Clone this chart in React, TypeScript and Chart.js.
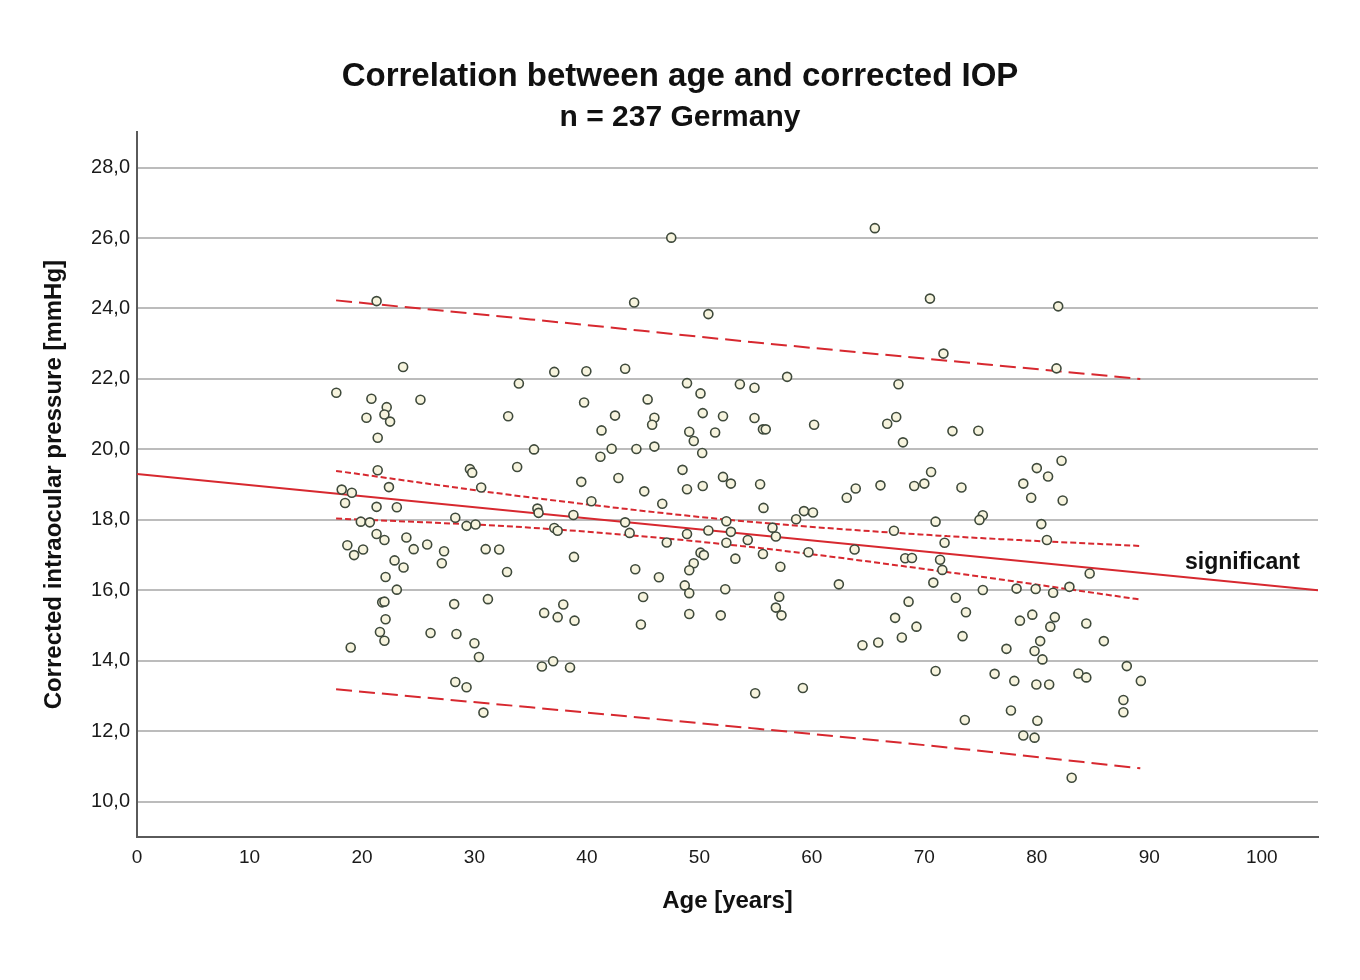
import { useEffect, useRef } from 'react';
import { Chart, registerables, type Plugin } from 'chart.js';

Chart.register(...registerables);

// age [years] / corrected IOP [mmHg], one entry per eye-subject
const ageYears = [
  21.3, 23.66, 17.72, 20.84, 25.2, 22.2, 22.0, 20.4, 22.5, 21.4,
  33.95, 33.0, 35.3, 21.4, 29.6, 29.8, 33.8, 18.2, 19.1, 22.4,
  30.6, 18.5, 21.3, 23.1, 35.6, 35.7, 28.3, 19.9, 20.7, 29.3,
  30.1, 21.3, 22.0, 23.95, 18.7, 20.1, 19.3, 24.6, 25.8, 27.3,
  27.1, 31.0, 32.2, 32.9, 22.9, 23.7, 22.1, 23.1, 21.8, 22.0,
  28.2, 31.2, 22.1, 21.6, 22.0, 19.0, 26.1, 28.4, 30.0, 30.4,
  28.3, 29.3, 30.8,
  47.5, 44.2, 50.8, 37.1, 39.95, 43.4, 48.9, 50.1, 53.6, 39.75,
  45.4, 42.5, 46.0, 45.8, 50.3, 52.1, 41.3, 49.1, 49.5, 51.4,
  42.2, 41.2, 44.4, 46.0, 50.25, 48.5, 39.5, 42.8, 45.1, 48.9,
  50.3, 52.1, 52.8, 40.4, 46.7, 38.8, 43.4, 43.8, 37.1, 37.4,
  47.1, 48.9, 50.8, 52.4, 52.8, 52.4, 54.3, 38.85, 50.1, 50.4,
  49.5, 49.1, 53.2, 44.3, 46.4, 48.7, 49.1, 52.3, 45.0, 37.9,
  36.2, 37.4, 38.9, 49.1, 51.9, 44.8, 36.0, 37.0, 38.5,
  65.6, 70.5, 71.7, 54.9, 57.8, 67.7, 54.9, 55.65, 55.9, 60.2,
  66.7, 67.5, 68.1, 72.5, 55.4, 63.1, 63.9, 66.1, 69.1, 70.0,
  70.6, 73.3, 55.7, 58.6, 59.3, 60.1, 56.5, 56.8, 55.65, 59.7,
  57.2, 63.8, 67.3, 68.3, 68.9, 71.0, 71.8, 71.4, 71.6, 70.8,
  62.4, 57.1, 56.8, 57.3, 72.8, 68.6, 67.4, 69.3, 68.0, 64.5,
  65.9, 71.0, 54.96, 59.2,
  81.9, 81.75, 74.8, 82.2, 80.0, 81.0, 78.8, 79.5, 82.3, 75.2,
  74.9, 80.4, 80.9, 84.7, 82.9, 75.2, 78.2, 79.9, 81.45, 73.7,
  78.5, 79.6, 81.6, 81.2, 84.4, 73.4, 77.3, 80.3, 79.8, 80.5,
  85.96, 76.25, 78.0, 79.96, 81.1, 83.7, 84.4, 88.0, 89.25, 87.7,
  87.7, 73.6, 77.7, 80.05, 78.8, 79.8, 83.1,
];
const iopMmHg = [
  24.21, 22.34, 21.61, 21.44, 21.41, 21.2, 20.99, 20.9, 20.79, 20.33,
  21.87, 20.94, 20.0, 19.41, 19.44, 19.34, 19.5, 18.86, 18.77, 18.93,
  18.92, 18.48, 18.37, 18.36, 18.32, 18.2, 18.06, 17.95, 17.93, 17.83,
  17.87, 17.6, 17.43, 17.5, 17.28, 17.16, 17.0, 17.17, 17.3, 17.11,
  16.77, 17.17, 17.16, 16.52, 16.85, 16.65, 16.38, 16.02, 15.66, 15.68,
  15.61, 15.75, 15.18, 14.82, 14.57, 14.38, 14.79, 14.76, 14.5, 14.11,
  13.4, 13.25, 12.53,
  26.01, 24.17, 23.84, 22.2, 22.22, 22.29, 21.88, 21.59, 21.85, 21.33,
  21.42, 20.96, 20.9, 20.7, 21.03, 20.94, 20.54, 20.5, 20.24, 20.48,
  20.02, 19.79, 20.01, 20.08, 19.9, 19.42, 19.08, 19.19, 18.81, 18.87,
  18.96, 19.22, 19.03, 18.53, 18.46, 18.14, 17.93, 17.63, 17.77, 17.69,
  17.36, 17.6, 17.7, 17.96, 17.66, 17.35, 17.43, 16.95, 17.07, 17.0,
  16.77, 16.57, 16.9, 16.6, 16.37, 16.14, 15.92, 16.03, 15.81, 15.6,
  15.36, 15.24, 15.14, 15.33, 15.29, 15.03, 13.84, 13.99, 13.81,
  26.28, 24.28, 22.72, 21.75, 22.06, 21.85, 20.89, 20.57, 20.57, 20.7,
  20.73, 20.92, 20.2, 20.52, 19.01, 18.63, 18.89, 18.98, 18.96, 19.03,
  19.36, 18.92, 18.34, 18.02, 18.25, 18.21, 17.78, 17.53, 17.03, 17.08,
  16.67, 17.16, 17.69, 16.91, 16.92, 17.95, 17.35, 16.87, 16.58, 16.22,
  16.17, 15.82, 15.51, 15.29, 15.79, 15.68, 15.22, 14.97, 14.66, 14.44,
  14.52, 13.71, 13.08, 13.23,
  24.06, 22.3, 20.53, 19.68, 19.47, 19.23, 19.03, 18.63, 18.55, 18.13,
  18.0, 17.88, 17.43, 16.48, 16.1, 16.01, 16.05, 16.04, 15.93, 15.38,
  15.14, 15.31, 15.24, 14.97, 15.06, 14.7, 14.34, 14.56, 14.28, 14.04,
  14.56, 13.63, 13.43, 13.33, 13.33, 13.64, 13.53, 13.85, 13.43, 12.89,
  12.54, 12.32, 12.59, 12.3, 11.88, 11.82, 10.68,
];

// fit line and its intervals, read at a few ages
const fitAge = [0, 105];
const fitIop = [19.3, 16.0];
const ciAge = [17.7, 35.9, 53.7, 72.0, 89.2];
const ciUpper = [19.39, 18.6, 17.97, 17.54, 17.26];
const ciLower = [18.04, 17.76, 17.26, 16.52, 15.74];
const piAge = [17.7, 35.0, 54.6, 73.3, 89.2];
const piUpper = [24.23, 23.69, 23.05, 22.48, 22.0];
const piLower = [13.19, 12.68, 12.09, 11.5, 10.95];

const xTicks = [0, 10, 20, 30, 40, 50, 60, 70, 80, 90, 100];
const yTicks = [10, 12, 14, 16, 18, 20, 22, 24, 26, 28];

const FONT = '"Liberation Sans", Arial, Helvetica, sans-serif';
const RED = '#d7282f';

const pts = (xs: number[], ys: number[]) => xs.map((x, i) => ({ x, y: ys[i] }));

const lineSet = (xs: number[], ys: number[], dash: number[], smooth = false) => ({
  type: 'line' as const,
  data: pts(xs, ys),
  borderColor: RED,
  borderWidth: 2,
  borderDash: dash,
  pointRadius: 0,
  showLine: true,
  fill: false,
  cubicInterpolationMode: smooth ? ('monotone' as const) : ('default' as const),
  order: 1,
});

const significantLabel: Plugin = {
  id: 'significantLabel',
  afterDatasetsDraw(chart) {
    const { ctx, scales } = chart;
    ctx.save();
    ctx.font = `bold 23px ${FONT}`;
    ctx.fillStyle = '#111';
    ctx.textAlign = 'right';
    ctx.textBaseline = 'middle';
    ctx.fillText('significant', scales.x.getPixelForValue(103.4), scales.y.getPixelForValue(16.8));
    ctx.restore();
  },
};

export default function App() {
  const canvasRef = useRef<HTMLCanvasElement>(null);
  const chartRef = useRef<Chart | null>(null);

  useEffect(() => {
    document.body.style.margin = '0';
    if (!canvasRef.current) return;
    chartRef.current?.destroy();
    chartRef.current = new Chart(canvasRef.current, {
      type: 'scatter',
      data: {
        datasets: [
          {
            data: pts(ageYears, iopMmHg),
            pointRadius: 4.5,
            pointBorderWidth: 1.6,
            pointBackgroundColor: '#f7f4de',
            pointBorderColor: '#3f4a3c',
            order: 0,
          },
          lineSet(fitAge, fitIop, []),
          lineSet(ciAge, ciUpper, [6, 3], true),
          lineSet(ciAge, ciLower, [6, 3], true),
          lineSet(piAge, piUpper, [16, 7], true),
          lineSet(piAge, piLower, [16, 7], true),
        ],
      },
      options: {
        animation: false,
        responsive: false,
        layout: { padding: { left: 42, right: 42, top: 0, bottom: 0 } },
        plugins: {
          legend: { display: false },
          tooltip: { enabled: false },
          title: {
            display: true,
            text: 'Correlation between age and corrected IOP',
            color: '#111',
            font: { family: FONT, size: 33, weight: 'bold', lineHeight: 1.1 },
            padding: { top: 59, bottom: 4 },
          },
          subtitle: {
            display: true,
            text: 'n = 237 Germany',
            color: '#111',
            font: { family: FONT, size: 30, weight: 'bold', lineHeight: 1.0 },
            padding: { top: 3, bottom: 0 },
          },
        },
        scales: {
          x: {
            type: 'linear',
            min: 0,
            max: 105,
            afterBuildTicks: (scale) => { scale.ticks = xTicks.map((value) => ({ value })); },
            afterFit: (scale) => { scale.height = 143; },
            grid: { display: false, drawTicks: false },
            border: { display: true, color: '#5a5a5a', width: 2 },
            ticks: {
              color: '#1a1a1a',
              padding: 9,
              maxRotation: 0,
              font: { family: FONT, size: 19 },
            },
            title: {
              display: true,
              text: 'Age [years]',
              color: '#111',
              font: { family: FONT, size: 24, weight: 'bold', lineHeight: 1.2 },
              padding: { top: 0, bottom: 64 },
            },
          },
          y: {
            type: 'linear',
            min: 9,
            max: 29,
            afterBuildTicks: (scale) => { scale.ticks = yTicks.map((value) => ({ value })); },
            afterFit: (scale) => { scale.width = 95; },
            grid: { color: '#bcbcbc', lineWidth: 2, drawTicks: false },
            border: { display: true, color: '#5a5a5a', width: 2 },
            ticks: {
              color: '#1a1a1a',
              padding: 7,
              font: { family: FONT, size: 20 },
              callback: (v) => Number(v).toFixed(1).replace('.', ','),
            },
            title: {
              display: true,
              text: 'Corrected intraocular pressure [mmHg]',
              color: '#111',
              font: { family: FONT, size: 24, weight: 'bold', lineHeight: 1.0 },
              padding: { top: 0, bottom: 0 },
            },
          },
        },
      },
      plugins: [significantLabel],
    } as never);
    return () => { chartRef.current?.destroy(); };
  }, []);

  return (
    <div style={{ position: 'relative', width: 1360, height: 980, background: '#fff' }}>
      <canvas ref={canvasRef} width={1360} height={980} />
    </div>
  );
}
